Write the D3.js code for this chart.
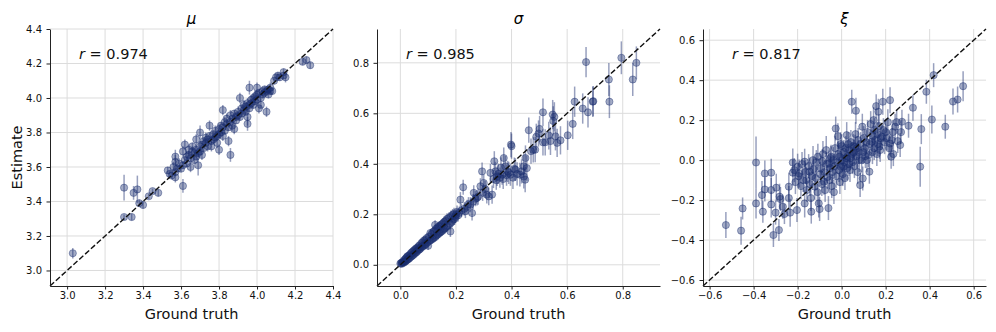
<!DOCTYPE html>
<html>
<head>
<meta charset="utf-8">
<script src="https://cdn.jsdelivr.net/npm/d3@7"></script>
<style>
  body { margin: 0; background: #fff; }
  text { font-family: "DejaVu Sans", sans-serif; }
</style>
</head>
<body>
<div id="chart"></div>
<script>
// panel titles, correlation labels, axis limits and ticks
const titles = ["μ", "σ", "ξ"];
const rValues = ["0.974", "0.985", "0.817"];
const xLabel = "Ground truth";
const yLabel = "Estimate";

const muLimits = [2.91, 4.40];
const sigmaLimits = [-0.084, 0.934];
const xiLimits = [-0.63, 0.656];

const muTicks = [3.0, 3.2, 3.4, 3.6, 3.8, 4.0, 4.2, 4.4];
const sigmaTicks = [0.0, 0.2, 0.4, 0.6, 0.8];
const xiTicks = [-0.6, -0.4, -0.2, 0.0, 0.2, 0.4, 0.6];

// points: [ground truth, estimate, error half-width]
const muData = [
  [3.03,3.10,0.03],[3.30,3.48,0.075],[3.30,3.31,0.015],[3.34,3.31,0.02],[3.35,3.45,0.04],
  [3.37,3.47,0.08],[3.38,3.39,0.02],[3.40,3.38,0.02],[3.43,3.43,0.015],[3.45,3.46,0.015],
  [3.48,3.45,0.02],[3.53,3.58,0.02],[3.54,3.56,0.02],[3.55,3.55,0.02],[3.56,3.60,0.03],
  [3.57,3.63,0.04],[3.57,3.66,0.04],[3.57,3.57,0.02],[3.57,3.54,0.03],[3.58,3.59,0.02],
  [3.59,3.62,0.03],[3.60,3.59,0.02],[3.61,3.49,0.04],[3.61,3.69,0.03],[3.61,3.61,0.02],
  [3.62,3.64,0.02],[3.62,3.73,0.03],[3.63,3.66,0.03],[3.63,3.62,0.02],[3.64,3.70,0.03],
  [3.64,3.67,0.02],[3.65,3.60,0.03],[3.65,3.65,0.02],[3.66,3.69,0.03],[3.66,3.72,0.02],
  [3.67,3.64,0.02],[3.67,3.68,0.02],[3.68,3.70,0.03],[3.68,3.76,0.03],[3.68,3.66,0.02],
  [3.69,3.61,0.06],[3.69,3.68,0.02],[3.70,3.80,0.04],[3.70,3.72,0.03],[3.70,3.69,0.02],
  [3.71,3.73,0.02],[3.71,3.67,0.03],[3.72,3.75,0.02],[3.72,3.71,0.02],[3.73,3.77,0.03],
  [3.73,3.74,0.02],[3.74,3.72,0.03],[3.74,3.76,0.02],[3.75,3.84,0.03],[3.75,3.78,0.02],
  [3.76,3.72,0.03],[3.76,3.75,0.02],[3.77,3.79,0.02],[3.77,3.76,0.02],[3.78,3.77,0.02],
  [3.78,3.81,0.03],[3.79,3.74,0.03],[3.79,3.78,0.02],[3.80,3.70,0.03],[3.80,3.82,0.03],
  [3.80,3.79,0.02],[3.81,3.84,0.02],[3.81,3.80,0.02],[3.82,3.93,0.03],[3.82,3.78,0.03],
  [3.82,3.83,0.02],[3.83,3.86,0.03],[3.83,3.81,0.02],[3.84,3.85,0.02],[3.84,3.88,0.03],
  [3.85,3.75,0.03],[3.85,3.83,0.02],[3.86,3.67,0.04],[3.86,3.90,0.03],[3.86,3.86,0.02],
  [3.87,3.88,0.02],[3.87,3.84,0.03],[3.88,3.91,0.02],[3.88,3.82,0.03],[3.89,3.89,0.02],
  [3.89,3.87,0.02],[3.90,3.92,0.03],[3.90,3.90,0.02],[3.91,4.00,0.03],[3.91,3.89,0.02],
  [3.92,3.94,0.02],[3.92,3.91,0.02],[3.93,3.93,0.02],[3.93,3.96,0.03],[3.94,3.95,0.02],
  [3.94,3.92,0.02],[3.95,3.89,0.05],[3.95,3.97,0.03],[3.95,3.85,0.04],[3.96,4.06,0.04],
  [3.96,3.96,0.02],[3.96,3.94,0.02],[3.97,3.99,0.02],[3.97,3.97,0.02],[3.98,3.96,0.02],
  [3.98,4.00,0.02],[3.99,3.98,0.02],[3.99,4.01,0.03],[4.00,4.06,0.03],[4.00,3.99,0.02],
  [4.00,4.02,0.02],[4.01,3.94,0.03],[4.01,4.03,0.02],[4.02,3.96,0.02],[4.02,4.00,0.02],
  [4.03,4.04,0.02],[4.03,4.02,0.02],[4.04,4.03,0.02],[4.04,4.05,0.02],[4.05,3.92,0.03],
  [4.05,4.04,0.02],[4.06,4.05,0.02],[4.06,4.02,0.02],[4.07,4.04,0.02],[4.07,4.06,0.03],
  [4.08,4.04,0.02],[4.09,4.10,0.02],[4.10,4.12,0.02],[4.11,4.13,0.02],[4.12,4.12,0.02],
  [4.14,4.13,0.02],[4.14,4.15,0.02],[4.15,4.12,0.03],[4.24,4.21,0.02],[4.26,4.22,0.02],
  [4.28,4.19,0.02]
];

const sigmaData = [
  [0.000,0.005,0.004],[0.003,0.007,0.004],[0.005,0.004,0.004],[0.006,0.010,0.005],[0.008,0.008,0.005],
  [0.010,0.012,0.005],[0.012,0.008,0.005],[0.013,0.018,0.006],[0.015,0.012,0.006],[0.017,0.022,0.006],
  [0.018,0.013,0.006],[0.020,0.026,0.007],[0.021,0.016,0.006],[0.023,0.030,0.007],[0.025,0.020,0.007],
  [0.026,0.034,0.008],[0.028,0.022,0.007],[0.030,0.036,0.008],[0.032,0.025,0.008],[0.034,0.040,0.008],
  [0.036,0.030,0.008],[0.038,0.046,0.009],[0.040,0.033,0.009],[0.042,0.050,0.009],[0.044,0.037,0.009],
  [0.046,0.054,0.010],[0.048,0.040,0.010],[0.050,0.058,0.010],[0.052,0.045,0.010],[0.054,0.062,0.010],
  [0.056,0.048,0.010],[0.058,0.066,0.011],[0.060,0.052,0.011],[0.062,0.068,0.011],[0.064,0.058,0.011],
  [0.066,0.074,0.012],[0.068,0.060,0.012],[0.070,0.078,0.012],[0.072,0.064,0.012],[0.074,0.070,0.012],
  [0.076,0.086,0.013],[0.078,0.070,0.013],[0.080,0.090,0.013],[0.083,0.074,0.013],[0.085,0.096,0.014],
  [0.088,0.078,0.014],[0.090,0.100,0.014],[0.092,0.082,0.014],[0.095,0.106,0.015],[0.098,0.088,0.015],
  [0.100,0.075,0.015],[0.102,0.112,0.015],[0.105,0.094,0.015],[0.108,0.126,0.016],[0.110,0.098,0.016],
  [0.112,0.122,0.016],[0.115,0.102,0.016],[0.118,0.130,0.017],[0.120,0.106,0.017],[0.122,0.134,0.017],
  [0.125,0.158,0.018],[0.126,0.110,0.017],[0.128,0.142,0.018],[0.130,0.116,0.018],[0.133,0.146,0.018],
  [0.135,0.120,0.018],[0.138,0.152,0.019],[0.140,0.126,0.019],[0.143,0.154,0.019],[0.145,0.130,0.019],
  [0.148,0.160,0.020],[0.150,0.134,0.020],[0.153,0.164,0.020],[0.155,0.140,0.020],[0.158,0.170,0.021],
  [0.160,0.144,0.021],[0.163,0.174,0.021],[0.165,0.150,0.021],[0.168,0.182,0.022],[0.170,0.154,0.022],
  [0.175,0.186,0.022],[0.178,0.162,0.022],[0.180,0.132,0.022],[0.182,0.192,0.023],[0.185,0.170,0.023],
  [0.188,0.198,0.023],[0.190,0.178,0.023],[0.193,0.202,0.024],[0.195,0.182,0.024],[0.198,0.190,0.024],
  [0.200,0.198,0.024],[0.204,0.210,0.025],[0.208,0.196,0.025],[0.212,0.206,0.025],[0.216,0.258,0.030],
  [0.220,0.215,0.026],[0.226,0.307,0.030],[0.230,0.222,0.027],[0.234,0.212,0.027],[0.240,0.230,0.028],
  [0.245,0.240,0.028],[0.252,0.238,0.030],[0.258,0.205,0.030],[0.262,0.250,0.030],[0.264,0.285,0.030],
  [0.270,0.262,0.030],[0.276,0.265,0.030],[0.280,0.270,0.032],[0.288,0.311,0.032],[0.294,0.370,0.035],
  [0.296,0.285,0.032],[0.300,0.324,0.033],[0.305,0.300,0.033],[0.311,0.278,0.035],[0.318,0.271,0.035],
  [0.324,0.364,0.036],[0.330,0.278,0.036],[0.335,0.340,0.036],[0.338,0.410,0.040],[0.342,0.370,0.038],
  [0.345,0.335,0.038],[0.348,0.350,0.038],[0.352,0.360,0.040],[0.358,0.345,0.040],[0.362,0.385,0.040],
  [0.366,0.357,0.040],[0.370,0.340,0.040],[0.372,0.423,0.042],[0.378,0.390,0.042],[0.382,0.355,0.042],
  [0.386,0.370,0.042],[0.390,0.364,0.044],[0.396,0.357,0.044],[0.398,0.476,0.050],[0.400,0.470,0.050],
  [0.405,0.345,0.045],[0.410,0.380,0.045],[0.414,0.377,0.045],[0.420,0.360,0.046],[0.430,0.357,0.047],
  [0.436,0.370,0.048],[0.444,0.350,0.048],[0.444,0.390,0.048],[0.449,0.337,0.050],[0.450,0.423,0.050],
  [0.455,0.383,0.050],[0.462,0.533,0.050],[0.470,0.450,0.050],[0.478,0.455,0.050],[0.485,0.456,0.050],
  [0.489,0.507,0.052],[0.497,0.520,0.052],[0.501,0.538,0.052],[0.513,0.604,0.055],[0.513,0.485,0.052],
  [0.521,0.485,0.052],[0.534,0.512,0.055],[0.540,0.490,0.055],[0.548,0.595,0.058],[0.550,0.570,0.058],
  [0.554,0.586,0.058],[0.558,0.509,0.056],[0.564,0.483,0.056],[0.576,0.493,0.056],[0.602,0.513,0.058],
  [0.620,0.558,0.060],[0.627,0.646,0.060],[0.656,0.619,0.060],[0.668,0.803,0.060],[0.675,0.604,0.060],
  [0.692,0.646,0.060],[0.694,0.648,0.060],[0.750,0.734,0.065],[0.752,0.646,0.065],[0.795,0.820,0.065],
  [0.836,0.734,0.065],[0.849,0.800,0.065]
];

const xiData = [
  [-0.526,-0.325,0.065],[-0.457,-0.353,0.070],[-0.450,-0.242,0.055],[-0.389,-0.012,0.130],[-0.389,-0.217,0.075],
  [-0.362,-0.175,0.070],[-0.358,-0.258,0.055],[-0.349,-0.067,0.065],[-0.349,-0.147,0.060],[-0.320,-0.063,0.070],
  [-0.320,-0.150,0.060],[-0.320,-0.222,0.065],[-0.310,-0.375,0.060],[-0.300,-0.263,0.060],[-0.297,-0.138,0.070],
  [-0.285,-0.350,0.055],[-0.282,-0.183,0.065],[-0.278,-0.195,0.060],[-0.267,-0.233,0.060],[-0.260,-0.270,0.050],
  [-0.240,-0.133,0.070],[-0.240,-0.190,0.060],[-0.234,-0.263,0.070],[-0.222,-0.012,0.070],[-0.222,-0.063,0.065],
  [-0.215,-0.050,0.060],[-0.210,-0.110,0.060],[-0.203,-0.250,0.060],[-0.200,-0.033,0.065],[-0.195,-0.080,0.060],
  [-0.193,-0.067,0.070],[-0.185,-0.130,0.065],[-0.180,-0.020,0.060],[-0.175,-0.100,0.060],[-0.168,-0.008,0.065],
  [-0.168,-0.217,0.070],[-0.165,-0.060,0.060],[-0.161,-0.100,0.065],[-0.158,-0.150,0.060],[-0.150,-0.030,0.060],
  [-0.146,-0.058,0.070],[-0.144,-0.120,0.060],[-0.140,-0.190,0.065],[-0.138,-0.258,0.060],[-0.135,-0.080,0.060],
  [-0.130,0.000,0.070],[-0.128,-0.045,0.060],[-0.122,-0.133,0.065],[-0.118,-0.090,0.060],[-0.115,-0.010,0.060],
  [-0.110,-0.160,0.065],[-0.108,0.017,0.065],[-0.104,-0.217,0.070],[-0.100,-0.245,0.060],[-0.098,-0.070,0.060],
  [-0.095,-0.042,0.065],[-0.090,-0.120,0.060],[-0.088,-0.005,0.060],[-0.085,0.030,0.065],[-0.080,-0.108,0.065],
  [-0.078,-0.060,0.060],[-0.075,-0.150,0.060],[-0.070,0.050,0.070],[-0.068,-0.020,0.060],[-0.065,-0.085,0.060],
  [-0.060,-0.240,0.060],[-0.058,-0.017,0.065],[-0.055,-0.100,0.065],[-0.052,-0.040,0.060],[-0.050,0.010,0.060],
  [-0.048,0.017,0.060],[-0.045,-0.130,0.060],[-0.042,-0.060,0.060],[-0.038,0.000,0.065],[-0.035,-0.160,0.060],
  [-0.032,-0.030,0.060],[-0.030,0.060,0.060],[-0.027,0.158,0.060],[-0.025,-0.080,0.060],[-0.020,-0.010,0.060],
  [-0.017,0.120,0.065],[-0.015,0.030,0.060],[-0.012,-0.050,0.060],[-0.010,0.017,0.060],[-0.008,-0.110,0.060],
  [-0.005,0.080,0.060],[-0.003,-0.033,0.065],[0.000,0.070,0.060],[0.003,0.000,0.060],[0.005,-0.070,0.060],
  [0.008,-0.033,0.060],[0.010,0.040,0.060],[0.012,-0.010,0.060],[0.015,-0.090,0.060],[0.018,0.060,0.060],
  [0.020,0.010,0.060],[0.023,0.125,0.065],[0.025,-0.040,0.060],[0.028,0.020,0.060],[0.030,0.080,0.060],
  [0.033,-0.020,0.060],[0.035,0.050,0.060],[0.038,-0.050,0.060],[0.040,0.010,0.060],[0.042,0.090,0.060],
  [0.046,0.292,0.060],[0.048,0.030,0.060],[0.050,-0.010,0.060],[0.053,0.070,0.060],[0.056,0.040,0.060],
  [0.058,-0.030,0.060],[0.061,0.067,0.060],[0.063,0.130,0.060],[0.065,0.247,0.065],[0.068,0.020,0.060],
  [0.070,0.060,0.060],[0.073,-0.060,0.060],[0.075,0.100,0.060],[0.078,0.040,0.060],[0.080,0.000,0.060],
  [0.084,-0.125,0.060],[0.086,0.080,0.060],[0.091,0.000,0.060],[0.094,0.167,0.065],[0.096,-0.092,0.060],
  [0.098,0.040,0.060],[0.100,0.110,0.060],[0.105,0.060,0.060],[0.108,0.020,0.060],[0.112,0.090,0.060],
  [0.115,0.000,0.060],[0.118,0.140,0.060],[0.122,0.025,0.060],[0.126,-0.058,0.060],[0.128,0.080,0.060],
  [0.132,0.180,0.065],[0.137,0.092,0.060],[0.140,0.040,0.060],[0.143,0.120,0.060],[0.145,0.200,0.065],
  [0.148,0.060,0.060],[0.150,0.150,0.060],[0.153,0.100,0.060],[0.157,0.270,0.060],[0.160,0.030,0.060],
  [0.162,0.130,0.060],[0.165,0.080,0.060],[0.167,0.242,0.065],[0.170,0.170,0.060],[0.172,0.067,0.060],
  [0.175,0.050,0.060],[0.178,0.110,0.060],[0.183,0.117,0.060],[0.187,0.292,0.065],[0.190,0.150,0.060],
  [0.195,0.090,0.060],[0.200,0.140,0.060],[0.205,0.110,0.060],[0.210,0.190,0.065],[0.215,0.060,0.060],
  [0.220,0.300,0.065],[0.220,0.083,0.060],[0.225,0.017,0.060],[0.228,0.100,0.060],[0.232,0.140,0.060],
  [0.235,0.030,0.060],[0.243,0.167,0.065],[0.250,0.190,0.060],[0.255,0.095,0.060],[0.266,0.075,0.060],
  [0.270,0.140,0.060],[0.274,0.192,0.060],[0.304,0.172,0.060],[0.324,0.262,0.065],[0.357,-0.033,0.100],
  [0.362,0.155,0.075],[0.385,0.342,0.060],[0.410,0.203,0.070],[0.418,0.425,0.060],[0.471,0.167,0.060],
  [0.506,0.293,0.065],[0.527,0.303,0.065],[0.552,0.370,0.075]
];

// layout
const width = 996, height = 332;
const panelTop = 29, panelW = 283, panelH = 257;
const panelLefts = [50, 377, 703];
const pointColor = "#1a2d6e";

const svg = d3.select("#chart")
  .append("svg")
    .attr("width", width)
    .attr("height", height);

function drawPanel(i, data, limits, ticks) {
  const g = svg.append("g")
    .attr("transform", `translate(${panelLefts[i]},${panelTop})`);

  const x = d3.scaleLinear().domain(limits).range([0, panelW]);
  const y = d3.scaleLinear().domain(limits).range([panelH, 0]);
  const fmt = d3.format(".1f");

  // grid
  const grid = g.append("g").attr("stroke", "#dcdcdc").attr("stroke-width", 1);
  grid.selectAll(".gx").data(ticks).join("line")
    .attr("x1", d => x(d)).attr("x2", d => x(d))
    .attr("y1", 0).attr("y2", panelH);
  grid.selectAll(".gy").data(ticks).join("line")
    .attr("class", "gy")
    .attr("x1", 0).attr("x2", panelW)
    .attr("y1", d => y(d)).attr("y2", d => y(d));

  // error bars and markers
  const pts = g.append("g");
  pts.selectAll("line").data(data).join("line")
    .attr("x1", d => x(d[0])).attr("x2", d => x(d[0]))
    .attr("y1", d => y(d[1] - d[2])).attr("y2", d => y(d[1] + d[2]))
    .attr("stroke", pointColor)
    .attr("stroke-opacity", 0.45)
    .attr("stroke-width", 1.5);
  pts.selectAll("circle").data(data).join("circle")
    .attr("cx", d => x(d[0]))
    .attr("cy", d => y(d[1]))
    .attr("r", 3.6)
    .attr("fill", pointColor)
    .attr("fill-opacity", 0.4)
    .attr("stroke", pointColor)
    .attr("stroke-opacity", 0.4)
    .attr("stroke-width", 1);

  // identity line
  g.append("line")
    .attr("x1", x(limits[0])).attr("y1", y(limits[0]))
    .attr("x2", x(limits[1])).attr("y2", y(limits[1]))
    .attr("stroke", "#111")
    .attr("stroke-width", 1.4)
    .attr("stroke-dasharray", "5.5,2.4");

  // axes
  const xAxis = g.append("g")
    .attr("transform", `translate(0,${panelH})`)
    .call(d3.axisBottom(x).tickValues(ticks).tickFormat(fmt)
      .tickSize(3.5).tickPadding(2).tickSizeOuter(0));
  const yAxis = g.append("g")
    .call(d3.axisLeft(y).tickValues(ticks).tickFormat(fmt)
      .tickSize(3.5).tickPadding(4.5).tickSizeOuter(0));
  [xAxis, yAxis].forEach(a => {
    a.attr("font-family", "DejaVu Sans").attr("font-size", 10);
    a.select(".domain").attr("stroke", "#222").attr("stroke-width", 1);
    a.selectAll(".tick line").attr("stroke", "#222");
    a.selectAll(".tick text").attr("fill", "#111");
  });

  // title
  g.append("text")
    .attr("x", panelW / 2)
    .attr("y", 23.5 - panelTop)
    .attr("text-anchor", "middle")
    .attr("font-style", "italic")
    .attr("font-size", 15)
    .text(titles[i]);

  // correlation
  const rt = g.append("text")
    .attr("x", 29)
    .attr("y", 30)
    .attr("font-size", 14.5)
    .attr("fill", "#111");
  rt.append("tspan").attr("font-style", "italic").text("r");
  rt.append("tspan").text(" = " + rValues[i]);

  // x label
  g.append("text")
    .attr("x", panelW / 2)
    .attr("y", 319 - panelTop)
    .attr("text-anchor", "middle")
    .attr("font-size", 14.5)
    .attr("fill", "#111")
    .text(xLabel);
}

drawPanel(0, muData, muLimits, muTicks);
drawPanel(1, sigmaData, sigmaLimits, sigmaTicks);
drawPanel(2, xiData, xiLimits, xiTicks);

// y label on first panel
svg.append("text")
  .attr("transform", `translate(21.5,${panelTop + panelH / 2}) rotate(-90)`)
  .attr("text-anchor", "middle")
  .attr("font-size", 14.5)
  .attr("fill", "#111")
  .text(yLabel);
</script>
</body>
</html>
